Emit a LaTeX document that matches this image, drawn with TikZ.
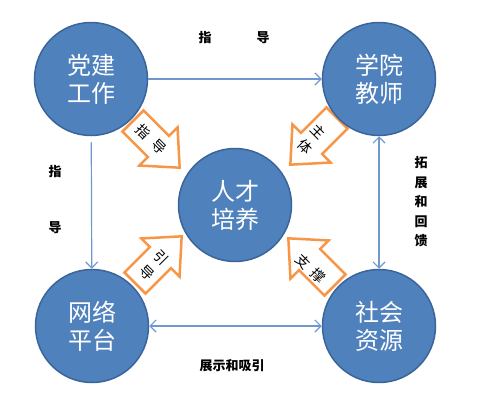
\documentclass[tikz,border=0pt]{standalone}
\usepackage{fontspec}
\newfontfamily\cjk{Noto Sans CJK SC}
\usetikzlibrary{arrows.meta}
\definecolor{cfill}{HTML}{4F81BD}
\definecolor{cdraw}{HTML}{3A659A}
\definecolor{cline}{HTML}{6F98CE}
\definecolor{corange}{HTML}{F79646}
\begin{document}
\begin{tikzpicture}[x=1pt,y=-1pt,
  ball/.style={circle, fill=cfill, draw=cdraw, line width=1.5pt, minimum size=113pt, inner sep=0pt,
    text=white, font=\cjk\fontsize{24}{28}\selectfont, align=center},
  link/.style={draw=cline, line width=1.2pt},
  onehead/.style={arrows={-Straight Barb[length=6pt,width=12pt]}},
  twohead/.style={arrows={Straight Barb[length=6pt,width=12pt]-Straight Barb[length=6pt,width=12pt]}},
  blockarrow/.style={draw=corange, fill=white, line width=2.5pt, line join=miter},
  atext/.style={font=\cjk\fontsize{14}{14}\selectfont, rotate=-45, inner sep=0pt},
  lbl/.style={font=\cjk\bfseries\fontsize{13}{13}\selectfont, inner sep=0pt}
]
\useasboundingbox (0,0) rectangle (478,407);

% block arrows
\draw[blockarrow, shift={(133,121)}, rotate=-45] (0,-15) -- (36,-15) -- (36,-27) -- (66,0) -- (36,27) -- (36,15) -- (0,15) -- cycle;
\draw[blockarrow, shift={(337,118)}, rotate=-135] (0,-15) -- (36,-15) -- (36,-27) -- (66,0) -- (36,27) -- (36,15) -- (0,15) -- cycle;
\draw[blockarrow, shift={(135,283)}, rotate=45] (0,-15) -- (36,-15) -- (36,-27) -- (66,0) -- (36,27) -- (36,15) -- (0,15) -- cycle;
\draw[blockarrow, shift={(335,285)}, rotate=135] (0,-15) -- (36,-15) -- (36,-27) -- (66,0) -- (36,27) -- (36,15) -- (0,15) -- cycle;

\node[atext] (a1) at (143,132) {指};
\node[atext] (a2) at (159,147) {导};
\node[atext] (b1) at (318,132) {主};
\node[atext] (b2) at (305,147) {体};
\node[atext] (c1) at (161,258) {引};
\node[atext] (c2) at (147,273) {导};
\node[atext] (d1) at (303,262) {支};
\node[atext] (d2) at (318,276) {撑};

% circles
\node[ball] (dj) at (91,79) {党建\\工作};
\node[ball] (xy) at (379,79) {学院\\教师};
\node[ball] (rc) at (235,205) {人才\\培养};
\node[ball] (wl) at (92,326) {网络\\平台};
\node[ball] (sh) at (379,326) {社会\\资源};

% connectors
\draw[link, onehead] (dj) -- (xy);
\draw[link, onehead, shorten <=6pt] (dj) -- (wl);
\draw[link, twohead] (xy) -- (sh);
\draw[link, twohead] (wl) -- (sh);

% labels
\node[lbl] (t1) at (205,38) {指};
\node[lbl] (t2) at (263,38) {导};
\node[lbl] (l1) at (55,172) {指};
\node[lbl] (l2) at (55,228) {导};
\node[lbl, align=center, font=\cjk\bfseries\fontsize{13}{19.5}\selectfont] (r1) at (421,202) {拓\\展\\和\\回\\馈};
\node[lbl] (b0) at (232,366) {展示和吸引};
\end{tikzpicture}
\end{document}
